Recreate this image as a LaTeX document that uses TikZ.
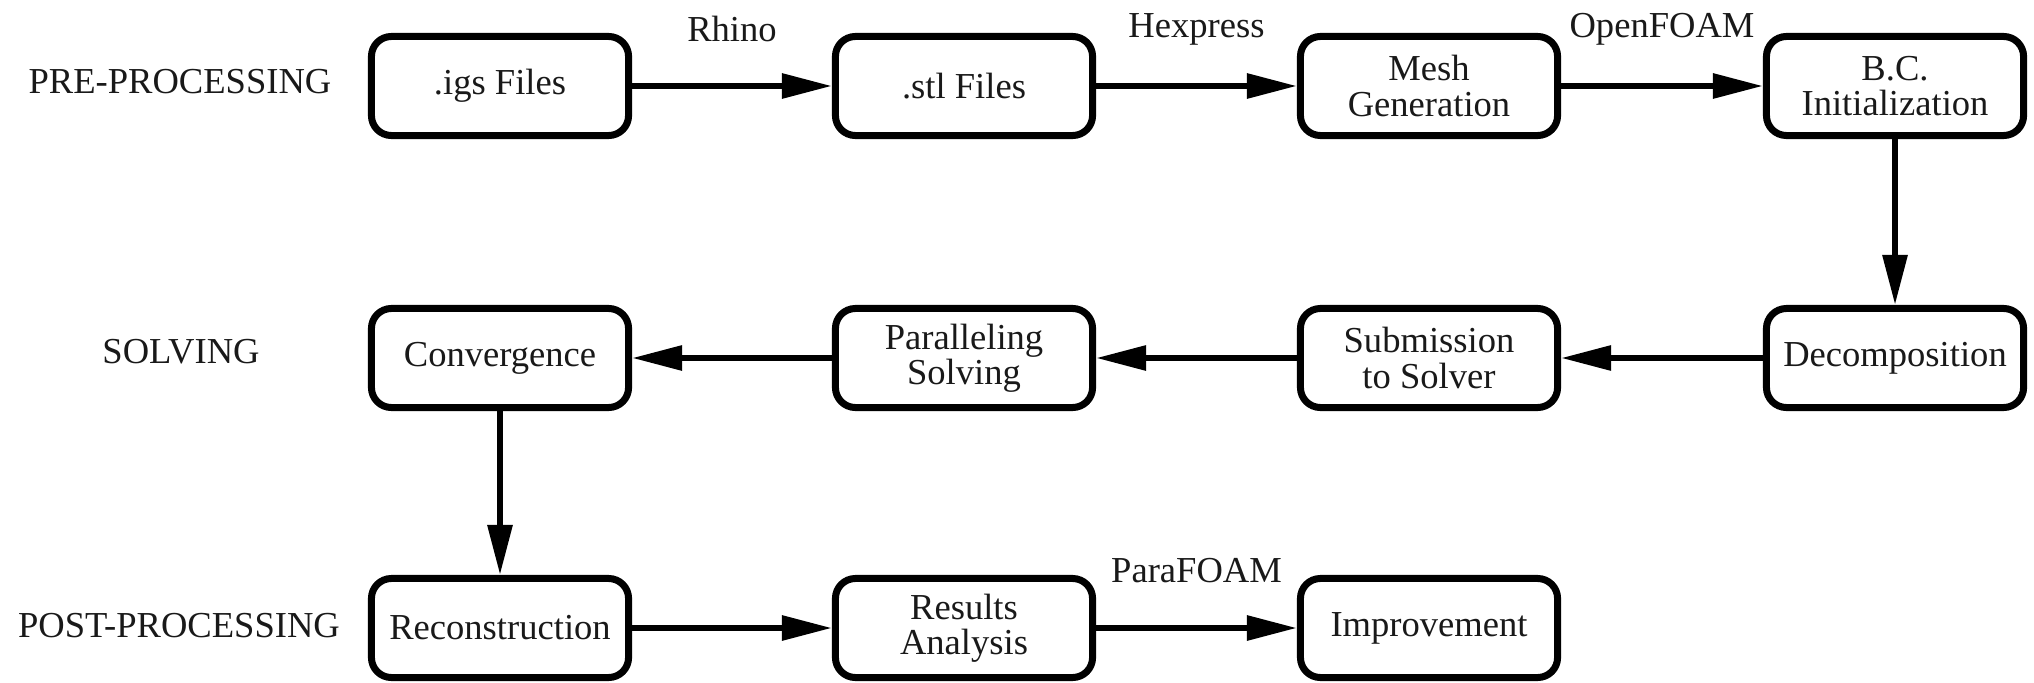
\documentclass[tikz,border=0pt]{standalone}
\usepackage{fontspec}
\setmainfont{Liberation Serif}
\usetikzlibrary{arrows.meta}
\begin{document}
\begin{tikzpicture}[x=0.01cm,y=-0.01cm,
  every node/.style={font=\fontsize{10.4}{10}\selectfont, text=black!90},
  stepbox/.style={draw=black, line width=0.07cm, rounded corners=0.2cm,
    minimum width=2.57cm, minimum height=0.99cm, align=center, inner sep=0pt},
  flow/.style={line width=0.06cm, -{Triangle[length=0.5cm,width=0.24cm]}},
  tool/.style={midway, yshift=0.57cm},
  phase/.style={align=center}]
\useasboundingbox (0,0) rectangle (2034,682);
% phase labels
\node[phase] (pre) at (180,82) {PRE-PROCESSING};
\node[phase] (sol) at (181,352) {SOLVING};
\node[phase] (post) at (179,626) {POST-PROCESSING};
% row 1
\node[stepbox] (igs) at (500,86) {.igs Files};
\node[stepbox] (stl) at (964,86) {.stl Files};
\node[stepbox] (mesh) at (1429,86) {Mesh\\Generation};
\node[stepbox] (bc) at (1895,86) {B.C.\\Initialization};
% row 2
\node[stepbox] (conv) at (500,358) {Convergence};
\node[stepbox] (par) at (964,358) {Paralleling\\Solving};
\node[stepbox] (sub) at (1429,358) {Submission\\to Solver};
\node[stepbox] (dec) at (1895,358) {Decomposition};
% row 3
\node[stepbox] (rec) at (500,628) {Reconstruction};
\node[stepbox] (res) at (964,628) {Results\\Analysis};
\node[stepbox] (imp) at (1429,628) {Improvement};
% connectors
\draw[flow] (igs) -- node[tool] {Rhino} (stl);
\draw[flow] (stl) -- node[tool] {Hexpress} (mesh);
\draw[flow] (mesh) -- node[tool] {OpenFOAM} (bc);
\draw[flow] (bc) -- (dec);
\draw[flow] (dec) -- (sub);
\draw[flow] (sub) -- (par);
\draw[flow] (par) -- (conv);
\draw[flow] (conv) -- (rec);
\draw[flow] (rec) -- (res);
\draw[flow] (res) -- node[tool] {ParaFOAM} (imp);
\end{tikzpicture}
\end{document}
